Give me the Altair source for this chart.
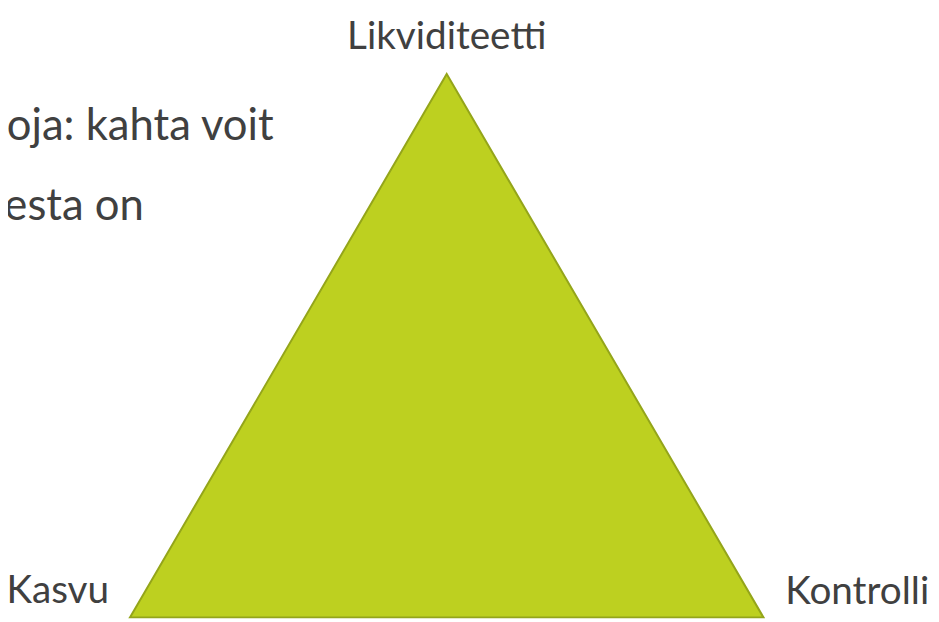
import altair as alt
import pandas as pd

# Triangle corners (abstract units: base 0..1, apex height 1)
corner_names = ["Kasvu", "Likviditeetti", "Kontrolli"]
corner_x = [0.0, 0.5, 1.0]
corner_y = [0.0, 1.0, 0.0]

# Corner label offsets (styling)
label_dx = [-21, 0, 22]
label_dy = [-14, -25, -13]
label_align = ["right", "center", "left"]

# Body text lines (clipped at the left edge in the original slide)
body_lines = ["oja: kahta voit", "nesta on"]
body_x = [0.2269, 0.0219]
body_y = [0.8796, 0.7318]

# closed outline: back to the first corner
tri = pd.DataFrame({
    "x": corner_x + [corner_x[0]],
    "y": corner_y + [corner_y[0]],
    "order": [0, 1, 2, 3],
})

xs = alt.Scale(domain=[-0.19249, 1.26448], range=[0, 931], nice=False, zero=False)
ys = alt.Scale(domain=[-0.00365, 1.11679], range=[614, 0], nice=False, zero=False)

FONT = "Lato"
TEXT_COLOR = "#404040"

shape = alt.Chart(tri).mark_line(
    fill="#BDD020", stroke="#94A51A", strokeWidth=2, interpolate="linear-closed"
).encode(
    x=alt.X("x:Q", scale=xs, axis=None),
    y=alt.Y("y:Q", scale=ys, axis=None),
    order="order:Q",
)

layers = [shape]
for name, cx, cy, dx, dy, al in zip(corner_names, corner_x, corner_y, label_dx, label_dy, label_align):
    df = pd.DataFrame({"x": [cx], "y": [cy], "t": [name]})
    layers.append(
        alt.Chart(df).mark_text(
            font=FONT, fontSize=39, color=TEXT_COLOR, align=al, baseline="alphabetic", dx=dx, dy=dy
        ).encode(x=alt.X("x:Q", scale=xs, axis=None), y=alt.Y("y:Q", scale=ys, axis=None), text="t:N")
    )

body = pd.DataFrame({"x": body_x, "y": body_y, "t": body_lines})
layers.append(
    alt.Chart(body).mark_text(
        font=FONT, fontSize=44, color=TEXT_COLOR, align="right", baseline="alphabetic", clip=True
    ).encode(x=alt.X("x:Q", scale=xs, axis=None), y=alt.Y("y:Q", scale=ys, axis=None), text="t:N")
)

chart = alt.layer(*layers).properties(
    width=931, height=614, padding=0, autosize=alt.AutoSizeParams(type="none"), background="white"
).configure_view(stroke=None)

chart.save("out.html", embed_options={"renderer": "svg", "actions": False})
